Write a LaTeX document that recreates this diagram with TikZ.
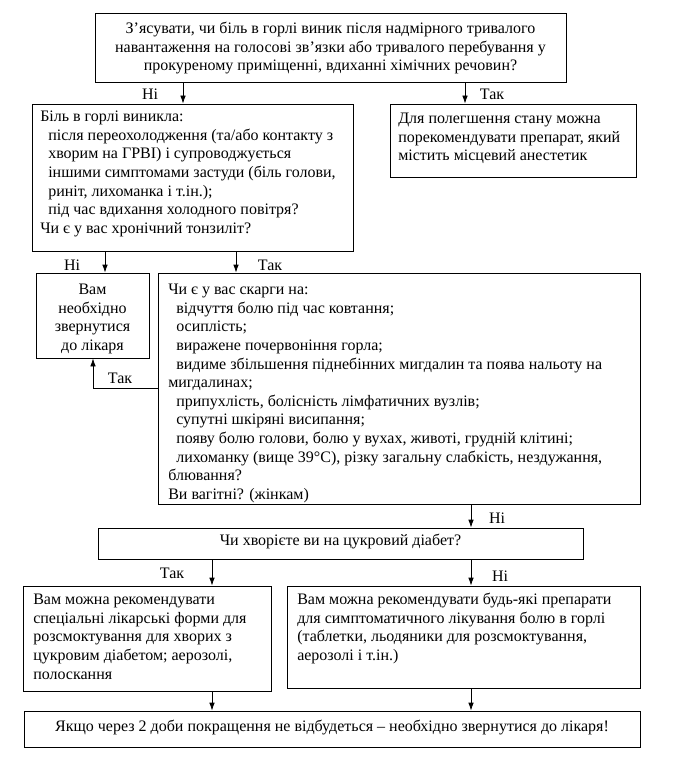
\documentclass[tikz,border=0pt]{standalone}
\usepackage{fontspec}
\setmainfont{Liberation Serif}
\usetikzlibrary{arrows.meta,fit,calc}
\newcommand{\fstr}{\rule{0pt}{10pt}}
\newcommand{\ind}{\hspace*{6pt}}
\begin{document}
\begin{tikzpicture}[x=0.75pt,y=-0.75pt,
  box/.style={draw, line width=0.6pt, inner sep=0pt},
  txt/.style={inner sep=0pt, align=left, anchor=north west, font=\fontsize{12}{13.95}\selectfont},
  ctxt/.style={inner sep=0pt, align=center, anchor=north, font=\fontsize{12}{13.95}\selectfont},
  lbl/.style={inner sep=0pt, anchor=base, font=\fontsize{12}{13.95}\selectfont},
  arr/.style={line width=0.6pt, -{Latex[length=6pt,width=4.2pt]}}]
\useasboundingbox (0,0) rectangle (672,770);
% box corners
\coordinate (p1a) at (95,13);  \coordinate (p1b) at (566,82);
\coordinate (p2a) at (32,104); \coordinate (p2b) at (353,251);
\coordinate (p3a) at (390,104);\coordinate (p3b) at (636,177);
\coordinate (p4a) at (36,273); \coordinate (p4b) at (149,358);
\coordinate (p5a) at (158,273);\coordinate (p5b) at (640,504);
\coordinate (p6a) at (98,528); \coordinate (p6b) at (583,559);
\coordinate (p7a) at (23,586); \coordinate (p7b) at (271,691);
\coordinate (p8a) at (287,586);\coordinate (p8b) at (640,688);
\coordinate (p9a) at (24,711); \coordinate (p9b) at (640,747);
\node[box, fit=(p1a)(p1b)] (b1) {};
\node[box, fit=(p2a)(p2b)] (b2) {};
\node[box, fit=(p3a)(p3b)] (b3) {};
\node[box, fit=(p4a)(p4b)] (b4) {};
\node[box, fit=(p5a)(p5b)] (b5) {};
\node[box, fit=(p6a)(p6b)] (b6) {};
\node[box, fit=(p7a)(p7b)] (b7) {};
\node[box, fit=(p8a)(p8b)] (b8) {};
\node[box, fit=(p9a)(p9b)] (b9) {};
% texts
\node[ctxt] (t1) at (330.5,20) {\fstr З’ясувати, чи біль в горлі виник після надмірного тривалого\\
навантаження на голосові зв’язки або тривалого перебування у\\
прокуреному приміщенні, вдиханні хімічних речовин?};
\node[txt] (t2) at (40,108) {\fstr Біль в горлі виникла:\\
\ind після переохолодження (та/або контакту з\\
\ind хворим на ГРВІ) і супроводжується\\
\ind іншими симптомами застуди (біль голови,\\
\ind риніт, лихоманка і т.ін.);\\
\ind під час вдихання холодного повітря?\\
Чи є у вас хронічний тонзиліт?};
\node[txt] (t3) at (398,110) {\fstr Для полегшення стану можна\\
порекомендувати препарат, який\\
містить місцевий анестетик};
\node[ctxt] (t4) at (92.5,281) {\fstr Вам\\ необхідно\\ звернутися\\ до лікаря};
\node[txt] (t5) at (168,281) {\fstr Чи є у вас скарги на:\\
\ind відчуття болю під час ковтання;\\
\ind осиплість;\\
\ind виражене почервоніння горла;\\
\ind видиме збільшення піднебінних мигдалин та поява нальоту на\\
мигдалинах;\\
\ind припухлість, болісність лімфатичних вузлів;\\
\ind супутні шкіряні висипання;\\
\ind появу болю голови, болю у вухах, животі, грудній клітині;\\
\ind лихоманку (вище 39°C), різку загальну слабкість, нездужання,\\
блювання?\\
Ви вагітні? (жінкам)};
\node[lbl] (t6) at (340.5,545) {Чи хворієте ви на цукровий діабет?};
\node[txt] (t7) at (33,591) {\fstr Вам можна рекомендувати\\
спеціальні лікарські форми для\\
розсмоктування для хворих з\\
цукровим діабетом; аерозолі,\\
полоскання};
\node[txt] (t8) at (297,591) {\fstr Вам можна рекомендувати будь-які препарати\\
для симптоматичного лікування болю в горлі\\
(таблетки, льодяники для розсмоктування,\\
аерозолі і т.ін.)};
\node[lbl] (t9) at (332,731) {Якщо через 2 доби покращення не відбудеться – необхідно звернутися до лікаря!};
% x positions for connectors
\coordinate (xa) at (183,0);
\coordinate (xb) at (465,0);
\coordinate (xc) at (105,0);
\coordinate (xd) at (236,0);
\coordinate (xe) at (471,0);
\coordinate (xf) at (212,0);
\coordinate (k1) at (93,388);
% connectors
\draw[arr] (b1.south -| xa) -- (b2.north -| xa);
\draw[arr] (b1.south -| xb) -- (b3.north -| xb);
\draw[arr] (b2.south -| xc) -- (b4.north -| xc);
\draw[arr] (b2.south -| xd) -- (b5.north -| xd);
\draw[arr] (b5.west |- k1) -- (k1) -- (b4.south -| k1);
\draw[arr] (b5.south -| xe) -- (b6.north -| xe);
\draw[arr] (b6.south -| xf) -- (b7.north -| xf);
\draw[arr] (b6.south -| xe) -- (b8.north -| xe);
\draw[arr] (b7.south -| xf) -- (b9.north -| xf);
\draw[arr] (b8.south -| xe) -- (b9.north -| xe);
% labels
\node[lbl] (l1) at (150,100) {Ні};
\node[lbl] (l2) at (492,100) {Так};
\node[lbl] (l3) at (72,270) {Ні};
\node[lbl] (l4) at (270,270) {Так};
\node[lbl] (l5) at (120,383) {Так};
\node[lbl] (l6) at (497,523) {Ні};
\node[lbl] (l7) at (172,578) {Так};
\node[lbl] (l8) at (500,581) {Ні};
\end{tikzpicture}
\end{document}
